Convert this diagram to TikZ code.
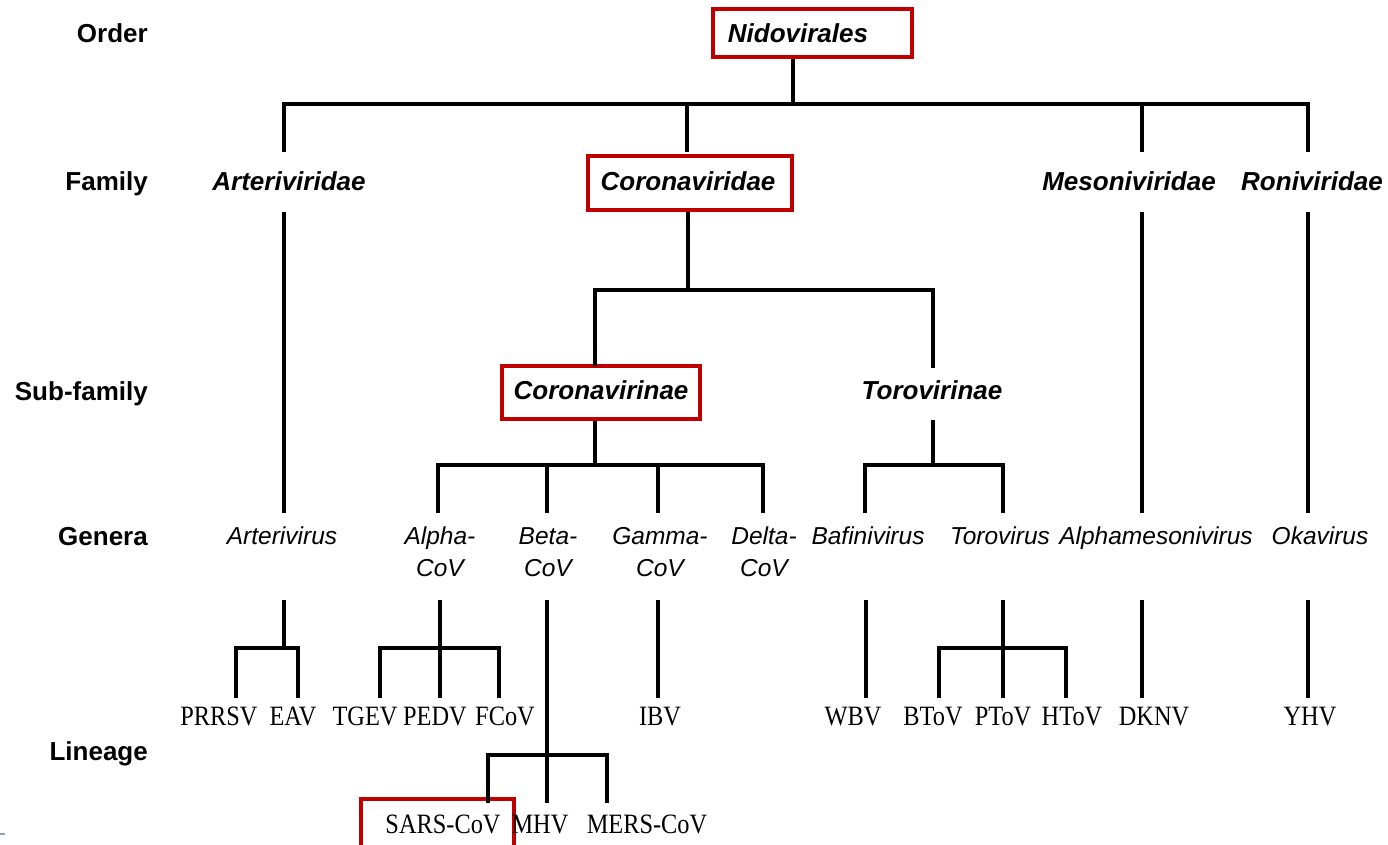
\documentclass[tikz,border=0pt]{standalone}
\usepackage{fontspec}
\setmainfont{Liberation Serif}
\setsansfont{Liberation Sans}
\newfontfamily\linfont[FakeStretch=0.87]{Liberation Serif}
\definecolor{boxred}{RGB}{192,0,0}
\definecolor{markgray}{RGB}{140,160,180}
\begin{document}
\begin{tikzpicture}[x=1pt,y=-1pt,
  branch/.style={line width=3.6pt, line join=miter},
  rank/.style={font=\sffamily\bfseries\fontsize{26}{30}\selectfont, anchor=base east, inner sep=0pt},
  taxon/.style={font=\sffamily\bfseries\itshape\fontsize{26}{30}\selectfont, anchor=base, inner sep=0pt},
  genus/.style={font=\sffamily\itshape\fontsize{24.5}{32}\selectfont, anchor=north, align=center, inner sep=0pt},
  virus/.style={font=\linfont\fontsize{28}{30}\selectfont, anchor=base, inner sep=0pt},
  redbox/.style={draw=boxred, line width=3.5pt, inner sep=0pt}]
\useasboundingbox (0,0) rectangle (1388,844);
\clip (0,0) rectangle (1388,844);

% rank labels
\node[rank] (r-order)   at (148,42)  {Order};
\node[rank] (r-family)  at (148,190) {Family};
\node[rank] (r-sub)     at (148,400) {Sub-family};
\node[rank] (r-genera)  at (148,545) {Genera};
\node[rank] (r-lineage) at (148,760) {Lineage};

% order
\node[redbox, minimum width=199pt, minimum height=48pt] (nido-box) at (812.5,33) {};
\node[taxon] (nido) at (798,42) {Nidovirales};

% families
\node[taxon] (arteriviridae) at (289,190) {Arteriviridae};
\node[redbox, minimum width=204pt, minimum height=54pt] (corofam-box) at (690,183) {};
\node[taxon] (coronaviridae) at (688,190) {Coronaviridae};
\node[taxon] (mesoniviridae) at (1129,190) {Mesoniviridae};
\node[taxon] (roniviridae)   at (1312,190) {Roniviridae};

% sub-families
\node[redbox, minimum width=198pt, minimum height=53pt] (corosub-box) at (601,392.5) {};
\node[taxon] (coronavirinae) at (601,399) {Coronavirinae};
\node[taxon] (torovirinae)   at (932,399) {Torovirinae};

% genera
\node[genus] (arterivirus) at (282,527)  {Arterivirus};
\node[genus] (alpha)       at (440,527)  {Alpha-\\CoV};
\node[genus] (beta)        at (548,527)  {Beta-\\CoV};
\node[genus] (gamma)       at (660,527)  {Gamma-\\CoV};
\node[genus] (delta)       at (764,527)  {Delta-\\CoV};
\node[genus] (bafini)      at (868,527)  {Bafinivirus};
\node[genus] (torovirus)   at (1000,527) {Torovirus};
\node[genus] (alphameso)   at (1156,527) {Alphamesonivirus};
\node[genus] (okavirus)    at (1320,527) {Okavirus};

% lineages
\node[virus] (prrsv) at (219,725)  {PRRSV};
\node[virus] (eav)   at (293,725)  {EAV};
\node[virus] (tgev)  at (365,725)  {TGEV};
\node[virus] (pedv)  at (435,725)  {PEDV};
\node[virus] (fcov)  at (505,725)  {FCoV};
\node[virus] (ibv)   at (660,725)  {IBV};
\node[virus] (wbv)   at (853,725)  {WBV};
\node[virus] (btov)  at (933,725)  {BToV};
\node[virus] (ptov)  at (1003,725) {PToV};
\node[virus] (htov)  at (1072,725) {HToV};
\node[virus] (dknv)  at (1154,725) {DKNV};
\node[virus] (yhv)   at (1310,725) {YHV};
\node[redbox, minimum width=153pt, minimum height=62pt] (sars-box) at (437.5,830) {};
\node[virus] (sars)  at (443,833)  {SARS-CoV};
\node[virus] (mhv)   at (540,833)  {MHV};
\node[virus] (mers)  at (647,833)  {MERS-CoV};

% line ends and junctions
\coordinate (nido-j) at (793,104);
\coordinate (arteriviridae-in)  at (284,152);
\coordinate (arteriviridae-out) at (284,212);
\coordinate (coronaviridae-in)  at (687,152);
\coordinate (mesoniviridae-in)  at (1142,152);
\coordinate (mesoniviridae-out) at (1142,212);
\coordinate (roniviridae-in)    at (1308,152);
\coordinate (roniviridae-out)   at (1308,212);

\coordinate (corofam-j) at (688,290);
\coordinate (coronavirinae-in) at (595,366);
\coordinate (torovirinae-in)   at (933,368);
\coordinate (torovirinae-out)  at (933,420);

\coordinate (corosub-j)  at (595,465);
\coordinate (torosub-j)  at (933,465);
\coordinate (arterivirus-in) at (284,513);
\coordinate (alpha-in)     at (438,513);
\coordinate (beta-in)      at (547,513);
\coordinate (gamma-in)     at (658,513);
\coordinate (delta-in)     at (763,513);
\coordinate (bafini-in)    at (865,513);
\coordinate (torovirus-in) at (1003,513);
\coordinate (alphameso-in) at (1142,513);
\coordinate (okavirus-in)  at (1308,513);

\coordinate (arterivirus-out) at (284,600);
\coordinate (arterivirus-j)   at (284,648);
\coordinate (prrsv-in) at (236,698);
\coordinate (eav-in)   at (298,698);
\coordinate (alpha-out) at (440,600);
\coordinate (alpha-j)   at (440,648);
\coordinate (tgev-in) at (380,698);
\coordinate (pedv-in) at (440,698);
\coordinate (fcov-in) at (499,698);
\coordinate (beta-out) at (547,600);
\coordinate (beta-j)   at (547,755);
\coordinate (sars-in) at (488,803);
\coordinate (mhv-in)  at (547,803);
\coordinate (mers-in) at (607,803);
\coordinate (gamma-out) at (658,600);
\coordinate (ibv-in)    at (658,698);
\coordinate (bafini-out) at (866,600);
\coordinate (wbv-in)     at (866,698);
\coordinate (torovirus-out) at (1003,600);
\coordinate (torovirus-j)   at (1003,648);
\coordinate (btov-in) at (939,698);
\coordinate (ptov-in) at (1003,698);
\coordinate (htov-in) at (1066,698);
\coordinate (alphameso-out) at (1142,600);
\coordinate (dknv-in)       at (1142,698);
\coordinate (okavirus-out)  at (1308,600);
\coordinate (yhv-in)        at (1308,698);

% order -> families
\draw[branch] (nido-box.south -| nido-j) -- (nido-j);
\draw[branch] (arteriviridae-in) |- (nido-j) -| (roniviridae-in);
\draw[branch] (coronaviridae-in) -- (coronaviridae-in |- nido-j);
\draw[branch] (mesoniviridae-in) -- (mesoniviridae-in |- nido-j);

% families -> sub-families / genera
\draw[branch] (arteriviridae-out) -- (arterivirus-in);
\draw[branch] (corofam-box.south -| corofam-j) -- (corofam-j);
\draw[branch] (coronavirinae-in) |- (corofam-j) -| (torovirinae-in);
\draw[branch] (mesoniviridae-out) -- (alphameso-in);
\draw[branch] (roniviridae-out) -- (okavirus-in);

% sub-families -> genera
\draw[branch] (corosub-box.south -| corosub-j) -- (corosub-j);
\draw[branch] (alpha-in) |- (corosub-j) -| (delta-in);
\draw[branch] (beta-in) -- (beta-in |- corosub-j);
\draw[branch] (gamma-in) -- (gamma-in |- corosub-j);
\draw[branch] (torovirinae-out) -- (torosub-j);
\draw[branch] (bafini-in) |- (torosub-j) -| (torovirus-in);

% genera -> lineages
\draw[branch] (arterivirus-out) -- (arterivirus-j);
\draw[branch] (prrsv-in) |- (arterivirus-j) -| (eav-in);
\draw[branch] (alpha-out) -- (pedv-in);
\draw[branch] (tgev-in) |- (alpha-j) -| (fcov-in);
\draw[branch] (beta-out) -- (mhv-in);
\draw[branch] (sars-in) |- (beta-j) -| (mers-in);
\draw[branch] (gamma-out) -- (ibv-in);
\draw[branch] (bafini-out) -- (wbv-in);
\draw[branch] (torovirus-out) -- (ptov-in);
\draw[branch] (btov-in) |- (torovirus-j) -| (htov-in);
\draw[branch] (alphameso-out) -- (dknv-in);
\draw[branch] (okavirus-out) -- (yhv-in);

% small mark at the lower left edge
\draw[markgray, line width=2pt] (0,834) -- (5,834);
\end{tikzpicture}
\end{document}
